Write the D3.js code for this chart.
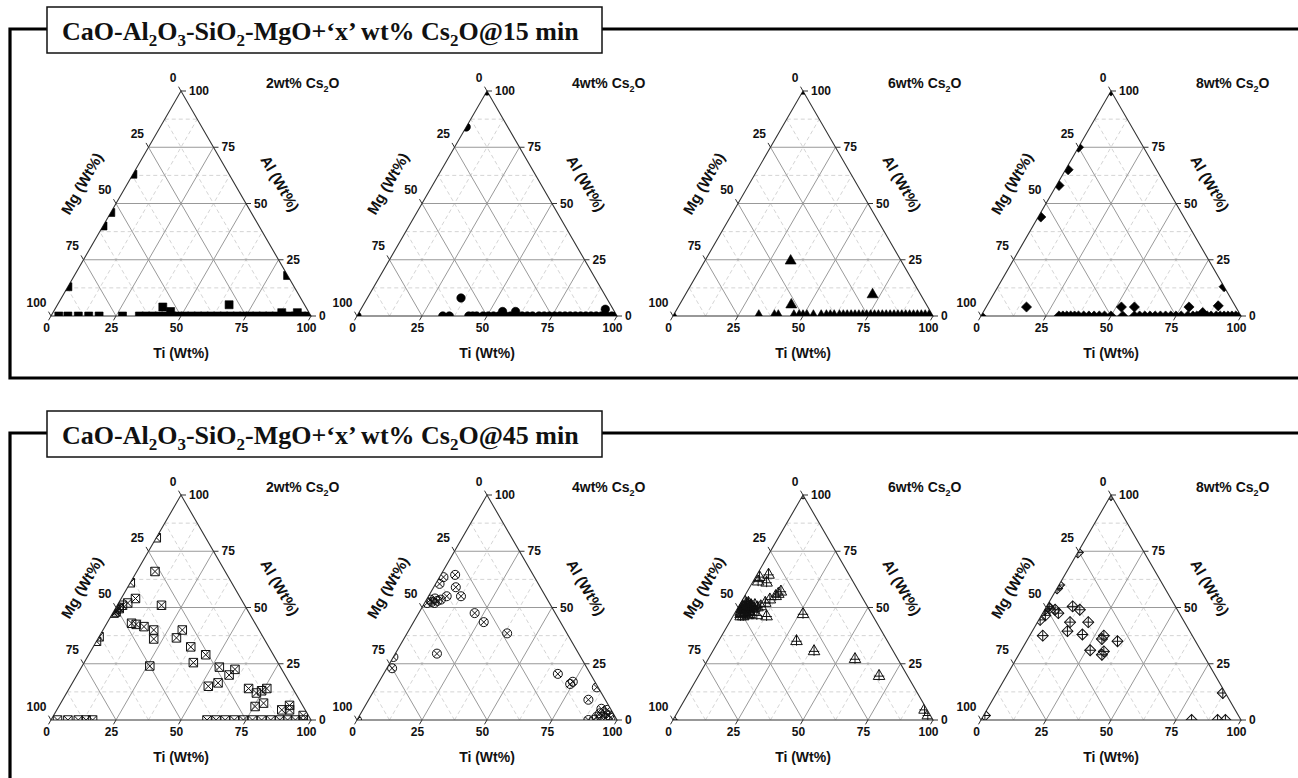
<!DOCTYPE html>
<html>
<head>
<meta charset="utf-8">
<script src="https://cdnjs.cloudflare.com/ajax/libs/d3/7.8.5/d3.min.js"></script>
<style>
body { margin: 0; background: #fff; }
svg text { font-family: Arial, "Liberation Sans", sans-serif; font-weight: bold; fill: #111; }
svg text.title { font-family: "Times New Roman", "Liberation Serif", serif; }
</style>
</head>
<body>
<div id="chart"></div>
<script>
// axis ticks (wt%)
var majorTicks = [0, 25, 50, 75, 100];
var gridMajor = [25, 50, 75];
var gridMinor = [12.5, 37.5, 62.5, 87.5];
var loadings = ["2", "4", "6", "8"];
var times = ["15", "45"];

// points are [Ti, Al, Mg] in wt%
// 15 min, 2 wt% Cs2O
var sq15 = [[0, 63, 37], [0, 46, 54], [0, 40, 60], [0, 13, 87], [82, 18, 0],
    [41, 4, 55], [45, 2, 53], [66, 5, 29], [88, 1.5, 10.5], [94, 1.5, 4.5]];
// Ti values of points lying on the Ti-Mg side (Al = 0)
var sq15Side = [3, 6.5, 10.5, 14.5, 18.5, 27.5, 34, 36.5, 39, 41.5, 44, 46.5, 49, 51.5, 54, 56.5, 59,
    61.5, 64, 66.5, 69, 71.5, 74, 76.5, 79, 81.5, 84, 86.5, 89, 91.5, 94, 96.5, 99];

// 15 min, 4 wt%
var ci15 = [[0, 84, 16], [36, 8, 56], [0, 100, 0], [0, 0, 100], [55, 2, 43], [60, 2, 38], [94, 3, 3]];
var ci15Side = [33, 35.5, 43, 44.5, 46, 48.5, 50.5, 52.5, 54.5, 57, 59, 61.5, 63.5, 65.5, 67.5, 70, 72,
    74, 76, 78, 80, 82, 84, 86, 88, 90, 92, 94, 96, 98, 99.5];

// 15 min, 6 wt%
var tr15 = [[33, 24.5, 42.5], [43, 5, 52], [72, 9.5, 18.5], [0, 100, 0], [0, 0, 100]];
var tr15Side = [33, 39, 40.5, 46.5, 48.5, 50, 51.5, 54, 57, 59, 60.5, 62, 64, 65.5, 67, 68.5, 70, 71.5,
    73, 74.5, 76, 77.5, 79, 80.5, 82, 83.5, 85, 86.5, 88, 89.5, 91, 92.5, 94, 95.5, 97, 98.5, 99.5];

// 15 min, 8 wt%
var di15 = [[0, 75, 25], [1, 65, 34], [1, 58, 41], [1, 44, 55], [15.5, 4, 80.5], [87, 13, 0],
    [0, 100, 0], [0, 0, 100], [52, 4, 44], [57, 4, 39], [78, 4, 18], [84.5, 1.5, 14], [89, 4.5, 6.5]];
var di15Side = [30, 31.5, 33, 34.5, 36, 37.5, 39.5, 41.5, 43.5, 45.5, 47.5, 50, 54.5, 59, 61, 63, 65,
    67, 69, 71, 73, 75, 77, 79.5, 81.5, 83, 85.5, 87, 88.5, 90.5, 92, 93.5, 95, 96.5, 98, 99.5];

// 45 min, 2 wt%
var sq45 = [[0, 81, 19], [7, 66, 27], [0, 61, 39], [5.5, 54, 40.5], [3.5, 52, 44.5], [2, 51, 47],
    [1, 50, 49], [1.5, 49.5, 49], [0.5, 49, 50.5], [1, 48, 51], [0.5, 47.5, 52], [17, 51, 32],
    [9.5, 43, 47.5], [11.5, 42.5, 46], [15, 41.5, 43.5], [19.5, 40, 40.5], [21.5, 36, 42.5],
    [30.5, 40, 29.5], [30, 36.5, 33.5], [37.5, 32.5, 30], [45, 29, 26], [42, 25.5, 32.5], [26, 24, 50],
    [53, 23.5, 23.5], [59.5, 22.5, 18], [58.5, 20, 21.5], [56, 16.5, 27.5], [53, 15, 32], [69, 14, 17],
    [73, 12, 15], [74.5, 13, 12.5], [76, 14, 10], [78, 7.5, 14.5], [75.5, 6, 18.5], [86.5, 4.5, 9],
    [88.5, 6.5, 5], [89.5, 4.5, 6], [96, 2, 2], [0, 37, 63], [0, 35, 65]];
var sq45Side = [2.5, 6.5, 10.5, 13.5, 16, 60, 63.5, 67, 70.5, 74, 77.5, 81, 84.5, 88, 91, 94, 97];

// 45 min, 4 wt%
var ci45 = [[5.5, 64.5, 30], [8.5, 59, 32.5], [12.5, 55, 32.5], [1.5, 60.5, 38], [1.5, 63.5, 35],
    [1.5, 53.5, 45], [3, 54, 43], [4.5, 53, 42.5], [5.5, 53.5, 41], [2.5, 52.5, 45], [3.8, 52, 44.2],
    [1, 52, 47], [7, 55, 38], [21.5, 47.5, 31], [27, 43.5, 29.5], [38.5, 38.5, 23], [16, 29.5, 54.5],
    [2, 23, 75], [0, 28, 72], [67, 20.5, 12.5], [74.5, 17, 8.5], [74, 16, 10], [85, 14.5, 0.5],
    [84.5, 9, 6.5], [91.5, 5, 3.5], [94, 4.5, 1.5], [92, 3, 5], [94, 3, 3], [96, 2, 2], [91.5, 1.5, 7],
    [93, 1.5, 5.5], [95, 1, 4], [97, 1, 2], [0, 0, 100]];
var ci45Side = [89, 91];

// 45 min, 6 wt%
var tp45 = [[1.5, 63.5, 35], [4.5, 64.5, 31], [2, 61.5, 36.5], [5.5, 61, 33.5], [13, 57, 30],
    [12.5, 56, 31.5], [12, 55, 33], [10.5, 53.5, 36], [9.5, 52, 38.5], [1, 51, 48], [3, 50.5, 46.5],
    [4.5, 51, 44.5], [3.5, 48, 48.5], [5.5, 48, 46.5], [6.5, 49.5, 44], [8.5, 50.5, 41], [3, 46, 51],
    [4, 46, 50], [5.5, 46.5, 48], [9, 46.5, 44.5], [13, 46, 41], [2, 49, 49], [2.5, 50, 47.5],
    [4, 49, 47], [1.5, 52.5, 46], [3, 52, 45], [0.5, 50, 49.5], [1.5, 50.5, 48], [2.5, 51.5, 46],
    [3.5, 50, 46.5], [4.5, 49.5, 46], [5, 50.5, 44.5], [6, 51, 43], [2, 48, 50], [3, 49, 48],
    [4, 47.5, 48.5], [5, 48.5, 46.5], [6, 47, 47], [7, 48, 45], [2.5, 47, 50.5], [1, 49.5, 49.5],
    [3.5, 51, 45.5], [4.5, 50.5, 45], [7.5, 50, 42.5], [26.5, 47, 26.5], [30, 35, 35], [39, 30.5, 30.5],
    [56.5, 27, 16.5], [69.5, 19.5, 11], [94.5, 4.5, 1], [97, 2, 1], [0, 100, 0], [0, 0, 100]];
var tp45Side = [];

// 45 min, 8 wt%
var dp45 = [[0, 74.5, 25.5], [0, 58.5, 41.5], [0, 60, 40], [0.5, 50.5, 49], [0, 49, 51],
    [1.5, 49.5, 49], [4, 49, 47], [6, 47.5, 46.5], [1.5, 46.5, 52], [0.5, 44.5, 55], [10, 50.5, 39.5],
    [13.5, 49, 37.5], [12.5, 43.5, 44], [13.5, 39.5, 47], [5, 37.5, 57.5], [19.5, 43.5, 37],
    [20, 38, 42], [28.5, 37.5, 34], [28.5, 36, 35.5], [35, 35, 30], [26.5, 31, 42.5], [32, 30.5, 37.5],
    [32, 29, 39], [87, 12, 1], [0.5, 2, 97.5], [0, 100, 0]];
var dp45Side = [81, 91, 94];

var panelData = [
    [sq15, ci15, tr15, di15],
    [sq45, ci45, tp45, dp45]
];
var panelSide = [
    [sq15Side, ci15Side, tr15Side, di15Side],
    [sq45Side, ci45Side, tp45Side, dp45Side]
];
var markerKinds = ["square", "circle", "triangle", "diamond"];

// layout
var W = 260, H = 225;
var panelLeft = [51, 357, 673, 981];
var rowBase = [316, 720];
var frameTop = [29, 433];
var frameBottom = [378, null];
var boxLeft = 47, boxRight = 602;

var svg = d3.select("#chart").append("svg")
    .attr("width", 1298)
    .attr("height", 778);

var defs = svg.append("defs");

// frames and title boxes
times.forEach(function(tm, r) {
    var top = frameTop[r];
    var g = svg.append("g");
    var d = "M" + boxLeft + "," + top + "H10V" + (frameBottom[r] || 780);
    if (frameBottom[r]) d += "H1300";
    g.append("path").attr("d", d)
        .attr("fill", "none").attr("stroke", "#000").attr("stroke-width", 3.2);
    g.append("path").attr("d", "M" + boxRight + "," + top + "H1300")
        .attr("fill", "none").attr("stroke", "#000").attr("stroke-width", 3.2);
    g.append("rect")
        .attr("x", boxLeft).attr("y", top - 22)
        .attr("width", boxRight - boxLeft).attr("height", 46)
        .attr("fill", "#fff").attr("stroke", "#111").attr("stroke-width", 1.5);

    var parts = [["CaO-Al", 0], ["2", 1], ["O", 0], ["3", 1], ["-SiO", 0], ["2", 1],
        ["-MgO+\u2018x\u2019 wt% Cs", 0], ["2", 1], ["O@" + tm + " min", 0]];
    var t = g.append("text").attr("class", "title")
        .attr("x", boxLeft + 15).attr("y", top + 11)
        .style("font-size", "26px");
    var prev = 0;
    parts.forEach(function(p) {
        var dy = p[1] === prev ? 0 : (p[1] ? 6 : -6);
        prev = p[1];
        t.append("tspan").attr("dy", dy)
            .style("font-size", p[1] ? "17px" : "26px")
            .text(p[0]);
    });
});

function markerShape(g, kind, open) {
    var s;
    if (!open) {
        if (kind === "square") s = d3.symbol(d3.symbolSquare, 64);
        else if (kind === "circle") s = d3.symbol(d3.symbolCircle, 56);
        else if (kind === "triangle") s = d3.symbol(d3.symbolTriangle, 52);
        else s = d3.symbol(d3.symbolSquare, 52);
        g.append("path").attr("d", s)
            .attr("transform", kind === "diamond" ? "rotate(45)" : null)
            .attr("fill", "#000").attr("stroke", "#000").attr("stroke-width", 0.6);
        return;
    }
    var cross;
    if (kind === "square") {
        s = d3.symbol(d3.symbolSquare, 72);
        cross = "M-4.2,-4.2L4.2,4.2M4.2,-4.2L-4.2,4.2";
    } else if (kind === "circle") {
        s = d3.symbol(d3.symbolCircle, 64);
        cross = "M-3.2,-3.2L3.2,3.2M3.2,-3.2L-3.2,3.2";
    } else if (kind === "triangle") {
        s = d3.symbol(d3.symbolTriangle, 58);
        cross = "M0,-6.3V4.4M-5.2,0H5.2";
    } else {
        s = d3.symbol(d3.symbolSquare, 60);
        cross = "M-5.5,0H5.5M0,-5.5V5.5";
    }
    g.append("path").attr("d", s)
        .attr("transform", kind === "diamond" ? "rotate(45)" : null)
        .attr("fill", "none").attr("stroke", "#111").attr("stroke-width", 1);
    g.append("path").attr("d", cross)
        .attr("fill", "none").attr("stroke", "#111").attr("stroke-width", 1);
}

function drawPanel(r, c) {
    var L = panelLeft[c], B = rowBase[r];
    var x = d3.scaleLinear().domain([0, 100]).range([0, W]);
    var y = d3.scaleLinear().domain([0, 100]).range([H, 0]);
    // ternary -> screen: Ti along base, Al up to apex, Mg to lower-left corner
    function P(ti, al) { return [x(ti + al / 2), y(al)]; }
    var line = d3.line();

    var g = svg.append("g").attr("transform", "translate(" + L + "," + (B - H) + ")");
    var tri = [P(0, 0), P(100, 0), P(0, 100)];

    var id = "clip" + r + c;
    defs.append("clipPath").attr("id", id)
        .append("path").attr("d", line(tri) + "Z")
        .attr("transform", "translate(" + L + "," + (B - H) + ")");

    function gridSet(vals) {
        var segs = [];
        vals.forEach(function(v) {
            segs.push([P(0, v), P(100 - v, v)]);       // Al = v
            segs.push([P(v, 0), P(v, 100 - v)]);       // Ti = v
            segs.push([P(100 - v, 0), P(0, 100 - v)]); // Mg = v
        });
        return segs;
    }
    g.selectAll(".minor").data(gridSet(gridMinor)).enter().append("path")
        .attr("class", "minor").attr("d", line)
        .attr("stroke", "#cfcfcf").attr("stroke-width", 0.9)
        .attr("stroke-dasharray", "4,3").attr("fill", "none");
    g.selectAll(".major").data(gridSet(gridMajor)).enter().append("path")
        .attr("class", "major").attr("d", line)
        .attr("stroke", "#999").attr("stroke-width", 1).attr("fill", "none");
    g.append("path").attr("d", line(tri) + "Z")
        .attr("fill", "none").attr("stroke", "#333").attr("stroke-width", 1.1);

    // ticks and labels
    var axes = [
        { at: function(v) { return P(100 - v, v); }, dir: [1, 0], anchor: "start", dx: 3, dy: 4 },          // Al
        { at: function(v) { return P(v, 0); }, dir: [-0.5, 0.866], anchor: "middle", dx: -2, dy: 12 },      // Ti
        { at: function(v) { return P(0, 100 - v); }, dir: [-0.5, -0.866], anchor: "end", dx: -2, dy: -5 }   // Mg
    ];
    axes.forEach(function(a) {
        majorTicks.forEach(function(v) {
            var p = a.at(v);
            var e = [p[0] + a.dir[0] * 5, p[1] + a.dir[1] * 5];
            g.append("path").attr("d", line([p, e]))
                .attr("stroke", "#333").attr("stroke-width", 1);
            g.append("text").attr("x", e[0] + a.dx).attr("y", e[1] + a.dy)
                .attr("text-anchor", a.anchor)
                .style("font-size", "12px")
                .text(v);
        });
    });

    // axis titles
    g.append("text").attr("x", x(50)).attr("y", H + 42)
        .attr("text-anchor", "middle").style("font-size", "14px").text("Ti (Wt%)");
    var mgMid = P(0, 50), alMid = P(50, 50);
    g.append("text")
        .attr("transform", "translate(" + (mgMid[0] - 34) + "," + (mgMid[1] - 20) + ") rotate(-60)")
        .attr("text-anchor", "middle").attr("dy", "0.35em")
        .style("font-size", "15px").text("Mg (Wt%)");
    g.append("text")
        .attr("transform", "translate(" + (alMid[0] + 34) + "," + (alMid[1] - 20) + ") rotate(60)")
        .attr("text-anchor", "middle").attr("dy", "0.35em")
        .style("font-size", "15px").text("Al (Wt%)");

    // panel label
    var apex = P(0, 100);
    var lab = g.append("text").attr("x", apex[0] + 85).attr("y", apex[1] - 3)
        .style("font-size", "14px");
    lab.append("tspan").text(loadings[c] + "wt% Cs");
    lab.append("tspan").attr("dy", 4).style("font-size", "9px").text("2");
    lab.append("tspan").attr("dy", -4).text("O");

    // data
    var pts = panelData[r][c].concat(panelSide[r][c].map(function(t) { return [t, 0, 100 - t]; }));
    var mk = svg.append("g").attr("clip-path", "url(#" + id + ")")
        .append("g").attr("transform", "translate(" + L + "," + (B - H) + ")");
    mk.selectAll(".pt").data(pts).enter().append("g")
        .attr("class", "pt")
        .attr("transform", function(d) {
            var p = P(d[0], d[1]);
            return "translate(" + p[0] + "," + p[1] + ")";
        })
        .each(function() {
            markerShape(d3.select(this), markerKinds[c], r === 1);
        });
}

for (var r = 0; r < 2; r++) {
    for (var c = 0; c < 4; c++) {
        drawPanel(r, c);
    }
}
</script>
</body>
</html>
